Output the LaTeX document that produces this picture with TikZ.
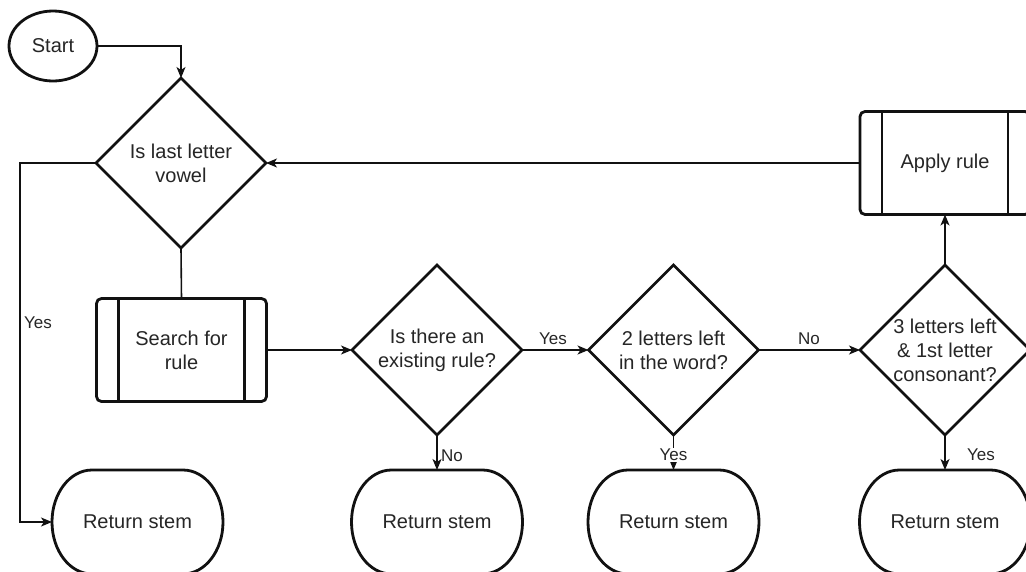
\documentclass[tikz,border=0pt]{standalone}
\usepackage{fontspec}
\setmainfont{Liberation Sans}
\usetikzlibrary{shapes.geometric,arrows.meta}
\definecolor{ink}{HTML}{111111}
\definecolor{txt}{HTML}{262626}

\begin{document}
\begin{tikzpicture}[x=1pt,y=-1pt,
  shapeline/.style={draw=ink,line width=2.8pt},
  maintext/.style={text=txt,font=\fontsize{20}{24}\selectfont,align=center},
  dia/.style={shapeline,diamond,aspect=1,minimum width=170pt,minimum height=170pt,inner sep=0pt,outer sep=0pt},
  proc/.style={shapeline,rectangle,rounded corners=5pt,minimum width=170pt,minimum height=103pt,outer sep=0pt,maintext},
  term/.style={rectangle,minimum width=171pt,minimum height=104pt,outer sep=0pt,maintext},
  startnode/.style={shapeline,ellipse,minimum width=88pt,minimum height=70pt,inner sep=0pt,outer sep=0pt,maintext},
  conn/.style={draw=ink,line width=1.6pt},
  arr/.style={conn,-{Stealth[length=11pt,width=9pt,inset=3pt]}},
  lbl/.style={text=txt,font=\fontsize{17}{20}\selectfont,inner sep=1pt}
]
% page frame
\fill[white] (0,0) rectangle (1026,571);
\useasboundingbox (0,0) rectangle (1026,571);
\clip (0,0) rectangle (1026,571);

% shapes
\node[startnode] (start) at (53,46) {Start};
\node[dia,label={[maintext]center:{Is last letter\\vowel}}] (d1) at (181,163) {};
\node[proc] (search) at (181.5,350) {Search for\\rule};
\node[dia,label={[maintext]center:{Is there an\\existing rule?}}] (d2) at (437,350) {};
\node[dia,label={[maintext]center:{2 letters left\\in the word?}}] (d3) at (673.5,350) {};
\node[dia,label={[maintext]center:{3 letters left\\\& 1st letter\\consonant?}}] (d4) at (945,350) {};
\node[proc] (apply) at (945,163) {Apply rule};
\node[term] (s1) at (137.5,522) {Return stem};
\node[term] (s2) at (437,522) {Return stem};
\node[term] (s3) at (673.5,522) {Return stem};
\node[term] (s4) at (945,522) {Return stem};

% side bars of the predefined-process boxes
\foreach \n in {search,apply} {
  \draw[shapeline] ([xshift=22pt]\n.north west) -- ([xshift=22pt]\n.south west);
  \draw[shapeline] ([xshift=-22pt]\n.north east) -- ([xshift=-22pt]\n.south east);
}

% terminator outlines: flat top and bottom, elliptical sides
\foreach \n in {s1,s2,s3,s4} {
  \draw[shapeline] ([xshift=40pt]\n.north west) -- ([xshift=-40pt]\n.north east)
    arc[start angle=90,end angle=-90,x radius=40pt,y radius=52pt]
    -- ([xshift=40pt]\n.south west)
    arc[start angle=270,end angle=90,x radius=40pt,y radius=52pt] -- cycle;
}

% connectors
\coordinate (lx) at (20,0);
\draw[arr] (start.east) -| (d1.north);
\draw[arr] (d1.west) -| (lx |- s1.west) -- (s1.west);
\draw[conn] (d1.south) -- (search.north);
\draw[arr] (search.east) -- (d2.west);
\draw[arr] (d2.east) -- (d3.west);
\draw[arr] (d2.south) -- (s2.north);
\draw[arr] (d3.south) -- (s3.north);
\draw[arr] (d3.east) -- (d4.west);
\draw[arr] (d4.north) -- (apply.south);
\draw[arr] (d4.south) -- (s4.north);
\draw[arr] (apply.west) -- (d1.east);

% connector labels
\node[lbl] (l1) at (38,323) {Yes};
\node[lbl] (l2) at (553,339) {Yes};
\node[lbl] (l3) at (452,456) {No};
\node[lbl,fill=white] (l4) at (673.5,455) {Yes};
\node[lbl] (l5) at (809,339) {No};
\node[lbl] (l6) at (981,455) {Yes};
\end{tikzpicture}
\end{document}
